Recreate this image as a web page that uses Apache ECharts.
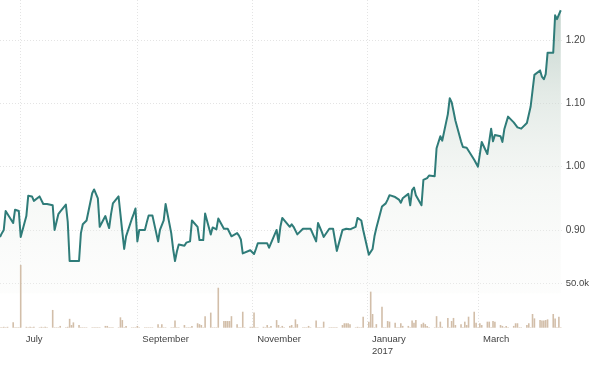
<!DOCTYPE html>
<html><head><meta charset="utf-8">
<script src="https://cdn.jsdelivr.net/npm/echarts@6/dist/echarts.min.js"></script>
<style>html,body{margin:0;padding:0;background:#fff}#c{width:600px;height:369px}</style>
</head><body><div id="c"></div>
<script>
// ---- data (trading days, Mon 20 Jun 2016 .. Fri 14 Apr 2017, weekdays) ----
const firstDay = [2016, 5, 20];
const lastDay = [2017, 3, 14];
const price = [
  0.889,0.895,0.900,0.930,0.929,
  0.911,0.932,0.932,0.930,0.889,
  0.922,0.954,0.954,0.953,0.946,
  0.953,0.950,0.941,0.942,0.941,
  0.939,0.900,0.900,0.925,0.929,
  0.940,0.913,0.851,0.851,0.851,
  0.851,0.895,0.909,0.911,0.915,
  0.958,0.964,0.962,0.950,0.905,
  0.922,0.912,0.903,0.925,0.942,
  0.953,0.925,0.897,0.870,0.890,
  0.917,0.925,0.934,0.882,0.900,
  0.900,0.912,0.923,0.923,0.923,
  0.882,0.900,0.900,0.915,0.941,
  0.895,0.870,0.851,0.866,0.877,
  0.875,0.880,0.881,0.882,0.915,
  0.905,0.884,0.884,0.884,0.926,
  0.893,0.904,0.903,0.901,0.918,
  0.902,0.902,0.902,0.902,0.890,
  0.895,0.891,0.885,0.863,0.865,
  0.868,0.868,0.862,0.870,0.879,
  0.879,0.879,0.879,0.872,0.870,
  0.900,0.881,0.905,0.919,0.919,
  0.905,0.909,0.905,0.902,0.893,
  0.902,0.902,0.902,0.902,0.902,
  0.882,0.911,0.911,0.897,0.889,
  0.902,0.902,0.902,0.902,0.867,
  0.900,0.902,0.902,0.902,0.901,
  0.905,0.919,0.919,0.915,0.900,
  0.861,0.858,0.870,0.890,0.903,
  0.937,0.938,0.942,0.948,0.955,
  0.952,0.954,0.948,0.943,0.950,
  0.957,0.939,0.963,0.967,0.955,
  0.939,0.979,0.980,0.982,0.986,
  0.985,1.029,1.029,1.048,1.041,
  1.083,1.108,1.102,1.088,1.073,
  1.040,1.031,1.030,1.030,1.029,
  1.011,1.009,1.000,1.000,1.039,
  1.020,1.020,1.060,1.040,1.050,
  1.048,1.039,1.059,1.060,1.079,
  1.070,1.070,1.062,1.059,1.060,
  1.069,1.069,1.095,1.120,1.145,
  1.152,1.142,1.138,1.146,1.180,
  1.180,1.239,1.233,1.230,1.247
];
const volumeK = [
  0.5,0.5,1,0.5,1,
  6,0.5,0.5,0.5,70.7,
  1,0.5,1,0.5,1,
  0.5,1,0.5,1,0.5,
  20,0.5,0.5,0.5,2,
  0.5,1,10,3,6,
  3,0.5,0.5,0.5,0.5,
  0.5,0.5,0.5,0.5,0.5,
  2,2,0.5,0.5,0.5,
  0.5,11.7,8.6,0.5,2,
  0.5,0.5,0.5,2,0.5,
  0.5,0.5,0.5,0.5,0.5,
  4,0.5,4,0.5,0.5,
  0.5,0.5,8,0.5,0.5,
  3,0.5,0.5,0.5,2,
  5,4,3,0.5,13,
  17,0.5,0.5,0.5,45,
  7.5,7.5,7.5,7.5,13,
  4,0.5,0.5,18,0.5,
  1,1,17,0.5,0.5,
  1,0.5,3,0.5,2,
  8.6,3,0.5,2,0.5,
  2,3,0.5,9.4,4,
  0.5,0.5,0.5,2,0.5,
  8,0.5,0.5,0.5,6.8,
  0.5,0.5,0.5,0.5,0.5,
  3,5,5,5,4,
  0.5,1,0.5,0.5,12.4,
  6.8,40.6,15.4,0.5,4,
  23.7,0.5,0.5,7.5,6.8,
  5.6,0.5,0.5,5,2,
  2,0.5,8,5.6,8.6,
  4,5.6,4,2,0.5,
  0.5,13,0.5,6.8,1,
  11,0.5,7.5,11,3,
  4,0.5,6.8,3,12.4,
  18,5.6,0.5,5,3,
  6.8,6.8,0.5,7.5,6.8,
  3,2,0.5,2,0.5,
  2,5,5,0.5,0.5,
  3,5,0.5,15.4,10.5,
  8.6,8,8,8.6,9.4,
  15.4,10.5,0.5,12.4,0.5
];
const monthTickDates = [[2016,6,1],[2016,8,1],[2016,10,1],[2017,0,1],[2017,2,1]];
const monthNames = ['January','February','March','April','May','June','July','August','September','October','November','December'];
const priceTickLabels = [0.9, 1.0, 1.1, 1.2];
const volumeTickLabel = 50000;

// ---- build ----
const dates = [];
(function(){
  let d = new Date(firstDay[0], firstDay[1], firstDay[2]);
  const end = new Date(lastDay[0], lastDay[1], lastDay[2]);
  while (d <= end) {
    const wd = d.getDay();
    if (wd !== 0 && wd !== 6) dates.push(d.getTime());
    d = new Date(d.getFullYear(), d.getMonth(), d.getDate() + 1);
  }
})();
const DAY = 864e5;
const xMin = new Date(firstDay[0], firstDay[1], firstDay[2]).getTime();
const xMax = xMin + 298.5 * DAY;
const monthTicks = monthTickDates.map(a => new Date(a[0], a[1], a[2]).getTime());

const priceData = dates.map((t, i) => [t, price[i]]);
const volData = dates.map((t, i) => [t, volumeK[i] * 1000]);

const T = 'rgba(0,0,0,0)';
const G = '#e4e4e4';
const txt = '#444';
const font = "'Liberation Sans', Arial, sans-serif";

const chart = echarts.init(document.getElementById('c'), null, {renderer: 'canvas'});
chart.setOption({
  animation: false,
  backgroundColor: '#fff',
  grid: [
    {left: 0, right: 38.3, top: 0, bottom: 75.7},
    {left: 0, right: 38.3, top: 0, bottom: 41.3}
  ],
  xAxis: [
    {type: 'value', gridIndex: 0, min: xMin, max: xMax, show: false},
    {type: 'value', gridIndex: 1, min: xMin, max: xMax,
      axisLine: {show: false},
      axisTick: {show: false, customValues: monthTicks},
      axisLabel: {
        customValues: monthTicks,
        color: txt, fontSize: 9.5, fontFamily: font,
        align: 'left', padding: [0, 0, 0, 5], margin: 6, lineHeight: 12,
        formatter: function (v) {
          const d = new Date(v);
          const m = monthNames[d.getMonth()];
          return d.getMonth() === 0 ? m + '\n' + d.getFullYear() : m;
        }
      },
      splitLine: {show: true, lineStyle: {color: G, width: 1, type: [1, 2]}}
    }
  ],
  yAxis: [
    {type: 'value', gridIndex: 0, position: 'right', min: 0.8, max: 1.2632, interval: 0.1,
      axisLine: {show: false}, axisTick: {show: false},
      axisLabel: {
        margin: 4, color: txt, fontSize: 10, fontFamily: font,
        formatter: function (v) {
          for (const p of priceTickLabels) if (Math.abs(v - p) < 1e-6) return p.toFixed(2);
          return '';
        }
      },
      splitLine: {show: true, lineStyle: {color: [T, G, G, G, G, T, T], width: 1, type: [1, 2]}}
    },
    {type: 'value', gridIndex: 1, position: 'right', min: 0, max: 369000, interval: 50000,
      axisLine: {show: false}, axisTick: {show: false},
      axisLabel: {
        margin: 4, color: txt, fontSize: 9.5, fontFamily: font,
        formatter: function (v) { return v === volumeTickLabel ? (v / 1000).toFixed(1) + 'k' : ''; }
      },
      splitLine: {show: true, lineStyle: {color: [T, G, T, T, T, T, T, T, T, T], width: 1, type: [1, 2]}}
    }
  ],
  series: [
    {type: 'line', xAxisIndex: 0, yAxisIndex: 0, data: priceData, showSymbol: false,
      lineStyle: {color: '#2f7c79', width: 2, join: 'round'},
      areaStyle: {color: new echarts.graphic.LinearGradient(0, 0, 0, 1, [
        {offset: 0, color: 'rgba(160,186,175,0.9)'},
        {offset: 0.3, color: 'rgba(200,214,206,0.7)'},
        {offset: 0.6, color: 'rgba(225,232,226,0.5)'},
        {offset: 1, color: 'rgba(245,246,243,0.3)'}
      ])},
      z: 2, silent: true},
    {type: 'bar', xAxisIndex: 1, yAxisIndex: 1, data: volData, barWidth: 1.6,
      itemStyle: {color: '#d2bea9'}, z: 4, silent: true}
  ]
});
</script></body></html>
